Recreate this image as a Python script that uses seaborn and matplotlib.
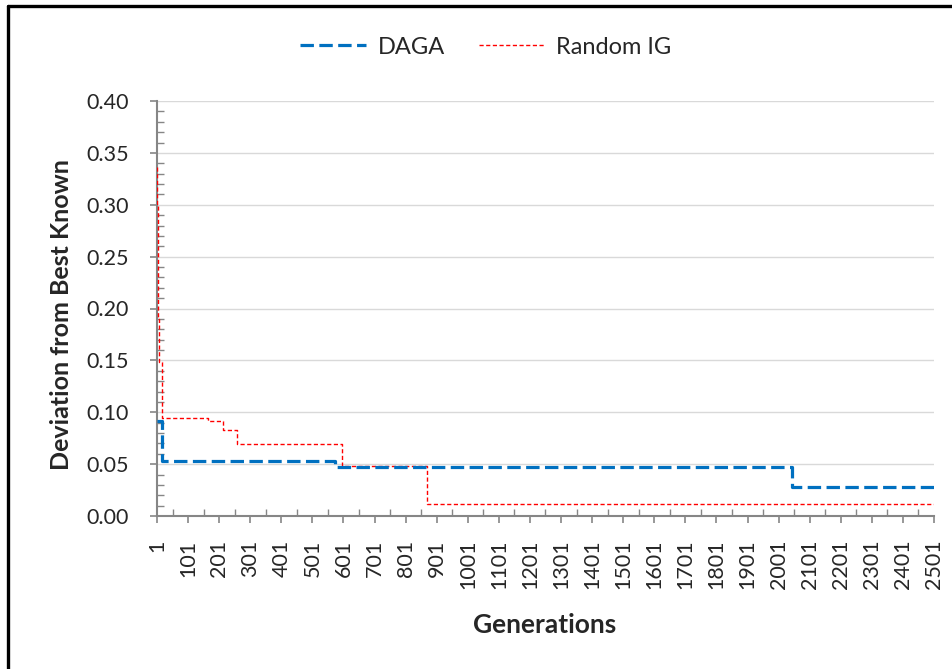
import numpy as np
import pandas as pd
import matplotlib
matplotlib.use("Agg")
import matplotlib.pyplot as plt
from matplotlib.lines import Line2D
from matplotlib.ticker import MultipleLocator, FixedLocator
import seaborn as sns

# Step curves: generation where a value starts, and the value
daga_gen = [1, 17, 575, 2044, 2501]
daga_val = [0.092, 0.053, 0.047, 0.028, 0.028]

rig_gen = [1, 2, 3, 4, 5, 6, 7, 18, 166, 212, 259, 596, 870, 2501]
rig_val = [0.336, 0.30, 0.26, 0.22, 0.19, 0.17, 0.148, 0.094, 0.092, 0.083,
           0.069, 0.048, 0.012, 0.012]

x_ticks = list(range(1, 2502, 100))
y_ticks = [0.00, 0.05, 0.10, 0.15, 0.20, 0.25, 0.30, 0.35, 0.40]

sns.set_style("white")
plt.rcParams['font.family'] = ['Lato', 'DejaVu Sans']

fig = plt.figure(figsize=(9.53, 6.69), dpi=100)
ax = fig.add_axes([157 / 953, 1 - 516 / 669, (934 - 157) / 953, (516 - 101) / 669])

daga = pd.DataFrame({'Generations': daga_gen, 'Deviation': daga_val})
rig = pd.DataFrame({'Generations': rig_gen, 'Deviation': rig_val})

sns.lineplot(data=rig, x='Generations', y='Deviation', ax=ax, color='#FF0000',
             linewidth=1.0, linestyle=(0, (3, 1.8)), drawstyle='steps-post',
             estimator=None, label='Random IG', zorder=3)
sns.lineplot(data=daga, x='Generations', y='Deviation', ax=ax, color='#0070C0',
             linewidth=2.3, linestyle=(0, (4.2, 1.7)), drawstyle='steps-post',
             estimator=None, label='DAGA', zorder=4)

ax.set_xlim(1, 2501)
ax.set_ylim(0, 0.40)

gray = '#868686'
ax.yaxis.grid(True, color='#D9D9D9', linewidth=1.0)
ax.set_axisbelow(True)
for side in ['top', 'right']:
    ax.spines[side].set_visible(False)
for side in ['left', 'bottom']:
    ax.spines[side].set_color(gray)
    ax.spines[side].set_linewidth(1.5)

ax.set_xticks(x_ticks)
ax.set_xticklabels([str(t) for t in x_ticks], rotation=90, fontsize=15.5)
ax.xaxis.set_minor_locator(FixedLocator(list(range(51, 2502, 100))))
ax.set_yticks(y_ticks)
ax.set_yticklabels([f'{t:.2f}' for t in y_ticks], fontsize=15.5)
ax.yaxis.set_minor_locator(MultipleLocator(0.01))

ax.tick_params(axis='both', which='major', direction='out', length=5,
               width=1.2, color=gray, bottom=True, left=True)
ax.tick_params(axis='x', which='major', pad=12)
ax.tick_params(axis='y', which='major', pad=15)
ax.tick_params(axis='both', which='minor', direction='in', length=5,
               width=1.0, color=gray, bottom=True, left=True)

ax.set_xlabel('Generations', fontsize=19, fontweight='bold', va='center')
ax.set_ylabel('Deviation from Best Known', fontsize=18, fontweight='bold', va='center')
ax.xaxis.set_label_coords((545 - 157) / 777, (516 - 625) / 415)
ax.yaxis.set_label_coords((62 - 157) / 777, (516 - 315) / 415)

handles, labels = ax.get_legend_handles_labels()
order = [labels.index('DAGA'), labels.index('Random IG')]
ax.legend([handles[i] for i in order], [labels[i] for i in order],
          loc='center', bbox_to_anchor=(486 / 953, 1 - 47 / 669), bbox_transform=fig.transFigure,
          ncol=2, frameon=False, fontsize=17, handlelength=2.8, columnspacing=1.4,
          handletextpad=0.5)

# chart border (left and top edges visible in the crop)
fig.add_artist(Line2D([8 / 953, 8 / 953], [-0.05, 1 - 6 / 669], color='black',
                      linewidth=2.4, transform=fig.transFigure))
fig.add_artist(Line2D([8 / 953, 1.05], [1 - 6 / 669, 1 - 6 / 669], color='black',
                      linewidth=2.4, transform=fig.transFigure))

fig.savefig('out.png', dpi=100)
